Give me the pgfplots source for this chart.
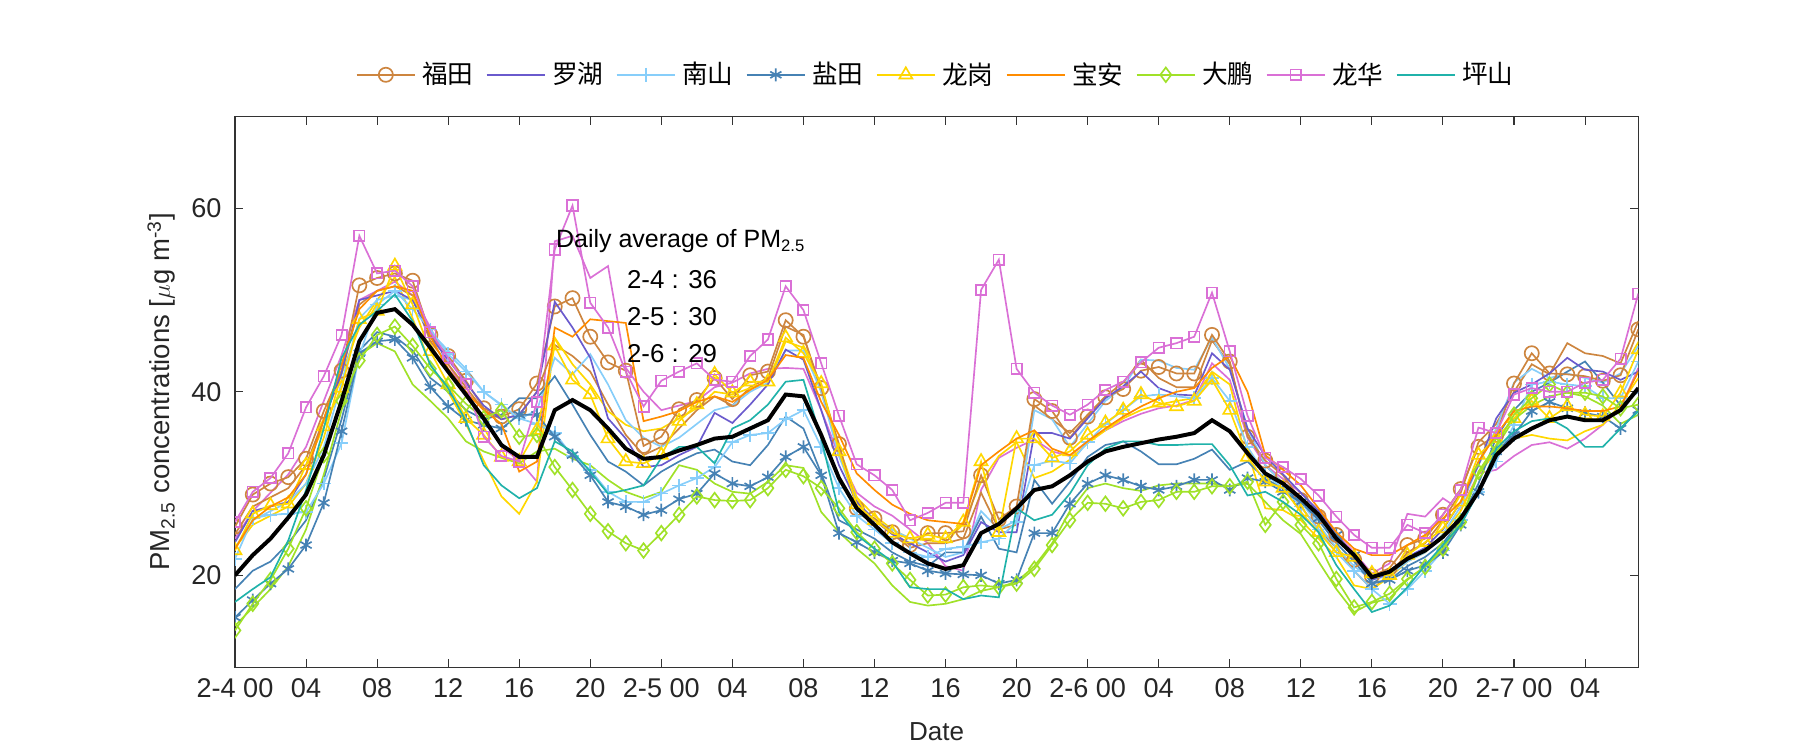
\documentclass[border=0pt]{standalone}
\usepackage{fontspec}
\setmainfont{Liberation Sans}
\newfontfamily\cjk{Noto Sans CJK SC}
\usepackage{pgfplots}
\usepackage{pgfplotstable}
\pgfplotsset{compat=1.18}

\definecolor{cfut}{RGB}{205,133,63}
\definecolor{cluo}{RGB}{106,90,205}
\definecolor{cnan}{RGB}{135,206,250}
\definecolor{cyan2}{RGB}{70,130,180}
\definecolor{clg}{RGB}{255,215,0}
\definecolor{cba}{RGB}{255,140,0}
\definecolor{cdp}{RGB}{160,225,40}
\definecolor{clh}{RGB}{218,112,214}
\definecolor{cps}{RGB}{32,178,170}

% hourly values, 2-4 00 ... 2-7 07 (80 points each)
\pgfplotstableread[header=false,row sep=\\]{
20.0\\22.2\\24.0\\26.3\\28.8\\33.1\\39.0\\45.5\\48.6\\49.0\\
47.3\\44.8\\42.2\\39.7\\37.1\\34.2\\32.9\\32.9\\38.0\\39.1\\
38.0\\36.0\\33.8\\32.7\\32.9\\33.6\\34.2\\34.9\\35.1\\36.0\\
36.9\\39.7\\39.5\\35.3\\30.6\\27.3\\25.5\\23.6\\22.4\\21.3\\
20.7\\21.1\\24.6\\25.6\\27.3\\29.3\\29.7\\30.9\\32.4\\33.5\\
34.0\\34.4\\34.8\\35.1\\35.5\\36.9\\35.7\\33.3\\31.1\\30.0\\
28.4\\26.6\\24.0\\22.2\\19.8\\20.4\\21.8\\22.7\\24.2\\26.2\\
29.1\\33.1\\34.9\\36.0\\36.9\\37.3\\36.9\\36.9\\38.0\\40.4\\
}\tavg
\pgfplotstableread[header=false,row sep=\\]{
25.3\\28.8\\30.0\\30.7\\32.7\\37.9\\42.3\\51.6\\52.4\\52.9\\
52.1\\46.2\\43.9\\41.2\\38.2\\37.3\\38.1\\40.9\\49.3\\50.2\\
46.0\\43.2\\42.3\\34.1\\35.1\\38.1\\39.1\\41.5\\39.2\\41.8\\
42.2\\47.8\\46.0\\40.4\\34.3\\27.3\\26.2\\24.7\\23.3\\24.6\\
24.6\\24.8\\30.9\\26.1\\27.5\\39.2\\37.9\\35.0\\37.3\\39.4\\
40.3\\42.3\\42.7\\42.0\\42.0\\46.2\\43.3\\35.1\\32.5\\30.9\\
28.2\\26.4\\24.4\\21.7\\19.9\\20.8\\23.3\\24.0\\26.6\\29.4\\
34.0\\35.3\\40.9\\44.2\\42.0\\41.9\\41.7\\41.2\\41.8\\46.8\\
}\tfut
\pgfplotstableread[header=false,row sep=\\]{
23.6\\27.0\\27.5\\28.0\\31.0\\37.0\\42.0\\50.0\\50.5\\51.0\\
50.0\\46.0\\43.5\\41.0\\38.5\\37.0\\37.5\\40.0\\49.8\\47.0\\
43.7\\37.1\\34.9\\31.8\\32.0\\33.1\\34.0\\37.7\\36.6\\38.6\\
40.8\\44.6\\43.5\\38.0\\32.0\\28.0\\26.0\\24.5\\23.5\\22.5\\
21.5\\22.2\\25.8\\24.7\\24.7\\35.5\\35.5\\34.9\\37.1\\39.3\\
40.6\\42.2\\40.4\\39.7\\39.6\\44.2\\42.4\\36.0\\33.0\\31.0\\
29.0\\27.0\\24.5\\22.0\\19.5\\20.2\\22.0\\23.0\\25.0\\28.0\\
32.0\\37.1\\39.9\\40.8\\42.0\\43.7\\42.4\\42.2\\41.3\\42.2\\
}\tluo
\pgfplotstableread[header=false,row sep=\\]{
21.8\\26.2\\26.6\\26.7\\26.9\\30.0\\34.4\\44.0\\49.5\\51.0\\
49.0\\46.8\\44.1\\42.2\\40.0\\38.6\\37.1\\36.5\\35.5\\33.0\\
31.5\\29.1\\28.0\\28.0\\28.9\\29.8\\30.6\\31.8\\34.5\\35.3\\
35.5\\37.0\\38.0\\34.0\\29.5\\26.5\\25.0\\23.5\\22.5\\22.0\\
22.9\\23.1\\23.6\\24.0\\25.8\\32.0\\32.5\\32.2\\34.5\\36.5\\
38.0\\39.5\\39.7\\39.5\\39.3\\41.5\\39.0\\34.0\\31.0\\29.5\\
27.5\\25.0\\22.5\\20.5\\18.5\\16.9\\18.5\\20.5\\22.7\\26.0\\
29.1\\32.4\\36.4\\40.8\\41.1\\40.8\\40.6\\39.3\\39.3\\43.3\\
}\tnan
\pgfplotstableread[header=false,row sep=\\]{
15.4\\17.3\\19.1\\20.7\\23.3\\27.9\\35.7\\44.2\\45.5\\45.7\\
43.7\\40.5\\38.4\\36.9\\36.4\\36.0\\37.5\\37.5\\35.1\\33.1\\
30.9\\28.0\\27.5\\26.6\\27.1\\28.3\\28.9\\31.1\\30.0\\29.7\\
30.7\\32.9\\34.0\\30.9\\24.6\\23.6\\22.5\\21.6\\21.3\\20.5\\
20.2\\20.1\\20.0\\19.1\\19.5\\24.6\\24.6\\27.8\\30.0\\30.9\\
30.4\\29.7\\29.3\\29.7\\30.4\\30.4\\29.3\\30.6\\30.2\\29.1\\
28.0\\26.2\\24.4\\22.2\\19.1\\19.5\\20.5\\21.1\\22.5\\25.5\\
29.1\\33.5\\35.3\\37.9\\38.9\\38.2\\37.7\\37.3\\36.0\\38.0\\
}\tyan
\pgfplotstableread[header=false,row sep=\\]{
22.7\\26.7\\27.6\\27.8\\32.0\\36.2\\40.4\\47.9\\48.8\\53.7\\
49.5\\44.4\\40.8\\37.1\\35.3\\32.9\\32.4\\35.8\\45.0\\41.3\\
39.7\\34.9\\32.4\\32.2\\33.1\\36.8\\38.6\\41.9\\39.9\\41.1\\
41.1\\45.9\\44.2\\40.9\\33.5\\27.7\\26.0\\24.6\\24.0\\24.4\\
24.0\\25.8\\32.4\\24.7\\34.9\\34.9\\32.8\\33.5\\35.3\\36.6\\
38.0\\39.7\\38.8\\38.4\\39.0\\41.3\\38.0\\32.9\\30.2\\29.5\\
26.9\\24.7\\22.5\\22.0\\20.2\\20.0\\22.2\\23.6\\25.1\\28.0\\
33.1\\34.9\\37.1\\39.0\\37.1\\38.4\\37.5\\37.3\\39.9\\44.6\\
}\tlg
\pgfplotstableread[header=false,row sep=\\]{
22.9\\26.0\\27.5\\28.5\\31.0\\37.0\\43.0\\49.0\\51.0\\51.5\\
51.0\\46.0\\42.5\\40.0\\38.0\\36.5\\31.3\\32.4\\47.0\\46.0\\
47.9\\47.7\\47.5\\36.8\\37.3\\37.9\\38.9\\39.5\\38.9\\40.2\\
41.3\\44.0\\43.7\\38.9\\35.3\\31.1\\29.3\\27.7\\26.7\\26.0\\
25.8\\25.6\\32.0\\33.5\\34.9\\35.8\\33.8\\33.1\\34.6\\36.0\\
37.3\\38.4\\39.3\\40.0\\40.4\\42.6\\43.9\\40.0\\33.1\\31.5\\
29.8\\27.3\\24.7\\22.9\\22.2\\22.2\\23.3\\24.4\\26.2\\28.0\\
32.4\\35.3\\37.9\\38.4\\38.4\\38.2\\37.9\\37.9\\38.4\\42.2\\
}\tba
\pgfplotstableread[header=false,row sep=\\]{
14.0\\16.9\\19.5\\22.9\\27.3\\33.1\\39.0\\43.4\\46.2\\47.1\\
45.0\\42.5\\40.7\\38.7\\37.1\\38.0\\35.1\\35.3\\31.8\\29.3\\
26.7\\24.8\\23.5\\22.7\\24.6\\26.6\\28.6\\28.2\\28.1\\28.2\\
29.5\\31.5\\30.8\\29.5\\27.3\\24.7\\22.9\\21.3\\19.5\\17.8\\
17.9\\18.7\\18.9\\18.7\\19.1\\20.7\\23.3\\26.0\\27.9\\27.8\\
27.3\\28.0\\28.2\\29.1\\29.1\\29.7\\29.7\\30.2\\25.5\\28.0\\
25.5\\23.5\\19.6\\16.5\\17.1\\18.0\\19.6\\20.9\\22.9\\25.8\\
31.3\\34.2\\37.5\\39.3\\40.8\\39.9\\39.9\\39.5\\38.2\\38.6\\
}\tdp
\pgfplotstableread[header=false,row sep=\\]{
25.8\\29.1\\30.6\\33.3\\38.3\\41.7\\46.2\\57.0\\52.9\\53.2\\
51.5\\46.5\\43.7\\40.8\\35.1\\33.0\\32.4\\38.9\\55.5\\60.3\\
49.7\\47.0\\42.2\\38.4\\41.2\\42.2\\43.1\\41.3\\41.1\\43.9\\
45.7\\51.5\\48.9\\43.1\\37.4\\32.1\\30.9\\29.3\\26.0\\26.8\\
27.9\\27.9\\51.1\\54.4\\42.5\\39.9\\38.5\\37.5\\38.6\\40.2\\
41.1\\43.2\\44.8\\45.3\\46.0\\50.8\\44.4\\37.4\\32.8\\31.8\\
30.5\\28.7\\26.4\\24.4\\23.0\\23.0\\25.5\\24.6\\26.6\\29.3\\
36.1\\35.5\\39.7\\40.4\\40.0\\40.0\\41.0\\41.3\\43.6\\50.7\\
}\tlh
\pgfplotstableread[header=false,row sep=\\]{
17.1\\18.5\\19.8\\23.8\\29.3\\36.0\\43.7\\47.3\\48.8\\50.6\\
47.7\\42.9\\40.4\\36.8\\32.0\\29.8\\28.4\\29.5\\34.6\\33.5\\
31.3\\28.9\\29.3\\29.8\\32.8\\34.0\\34.0\\32.2\\36.0\\36.9\\
38.6\\41.1\\41.3\\34.9\\26.9\\24.4\\22.9\\21.5\\18.7\\18.5\\
18.5\\17.4\\17.8\\17.6\\27.3\\26.0\\26.6\\28.9\\32.0\\33.8\\
34.6\\34.6\\34.2\\34.2\\34.3\\34.3\\32.0\\28.7\\29.1\\28.0\\
26.6\\24.7\\21.1\\18.5\\16.0\\16.7\\18.7\\21.1\\23.3\\25.5\\
29.1\\33.8\\35.7\\36.8\\37.1\\36.0\\34.0\\34.0\\36.0\\37.9\\
}\tps
% further lines without markers, not in the legend
\pgfplotstableread[header=false,row sep=\\]{
24.0\\27.0\\29.0\\31.0\\34.0\\39.0\\44.0\\50.0\\51.0\\52.0\\
50.5\\47.0\\43.0\\40.0\\37.0\\34.0\\32.5\\30.2\\56.4\\57.0\\
52.4\\53.7\\42.6\\40.0\\38.0\\38.5\\39.0\\40.5\\41.0\\42.0\\
42.5\\42.6\\42.5\\38.0\\33.0\\29.0\\27.5\\26.5\\25.0\\23.5\\
21.0\\20.5\\29.3\\32.8\\33.9\\34.8\\33.5\\33.0\\34.6\\35.8\\
36.8\\37.6\\38.2\\38.5\\39.1\\43.1\\41.3\\35.0\\32.0\\30.5\\
29.0\\27.0\\24.5\\22.5\\20.2\\21.3\\26.7\\26.4\\28.4\\27.1\\
31.1\\31.5\\33.0\\34.2\\34.5\\33.8\\34.9\\36.4\\38.2\\42.6\\
}\txlh
\pgfplotstableread[header=false,row sep=\\]{
24.5\\27.5\\28.5\\29.5\\32.0\\37.0\\42.0\\49.5\\51.0\\51.5\\
50.5\\45.5\\43.0\\40.5\\38.0\\37.0\\37.5\\40.0\\45.1\\43.9\\
42.2\\38.6\\35.3\\33.1\\34.0\\36.0\\38.0\\39.5\\38.5\\40.5\\
41.5\\47.1\\46.2\\40.0\\34.0\\28.0\\26.0\\24.5\\23.0\\23.5\\
23.5\\24.0\\29.0\\25.0\\25.5\\38.5\\37.0\\35.5\\37.5\\39.5\\
41.0\\43.5\\41.5\\40.5\\40.5\\45.6\\43.0\\35.5\\32.0\\30.0\\
27.5\\25.0\\23.0\\20.5\\18.5\\20.0\\22.5\\23.5\\26.0\\29.0\\
34.5\\36.5\\40.0\\43.0\\41.9\\45.3\\44.2\\43.9\\43.1\\47.7\\
}\txfut
\pgfplotstableread[header=false,row sep=\\]{
23.0\\25.5\\26.5\\27.5\\30.0\\35.0\\42.0\\47.0\\50.0\\52.5\\
48.0\\43.0\\40.0\\36.5\\32.5\\28.6\\26.7\\30.2\\45.9\\43.0\\
40.8\\37.9\\36.4\\35.7\\36.0\\37.1\\38.2\\40.0\\39.7\\40.4\\
40.8\\45.5\\44.8\\40.8\\34.0\\28.5\\26.5\\25.0\\24.0\\23.8\\
23.6\\25.6\\30.2\\33.0\\34.5\\30.6\\31.3\\32.6\\34.4\\35.8\\
37.1\\38.0\\38.6\\39.0\\39.3\\42.2\\40.8\\33.5\\27.3\\27.1\\
26.0\\24.0\\22.0\\18.9\\18.5\\19.8\\21.5\\22.5\\24.5\\27.0\\
31.0\\33.5\\34.9\\35.3\\34.9\\34.7\\35.7\\36.4\\38.6\\41.5\\
}\txlg
\pgfplotstableread[header=false,row sep=\\]{
23.0\\26.0\\27.0\\28.0\\30.0\\34.0\\41.0\\48.0\\50.0\\50.5\\
50.0\\46.5\\44.5\\42.5\\40.0\\38.5\\37.0\\38.0\\43.7\\41.9\\
44.1\\40.8\\36.9\\35.0\\34.0\\35.0\\36.5\\38.0\\38.5\\40.0\\
41.0\\44.5\\44.5\\40.0\\33.0\\28.0\\26.0\\25.0\\24.0\\23.0\\
22.0\\22.5\\27.0\\25.0\\26.0\\38.0\\37.0\\34.0\\36.5\\39.0\\
40.5\\43.5\\43.4\\42.6\\42.4\\45.9\\42.5\\36.0\\32.0\\30.0\\
28.0\\25.5\\23.0\\21.0\\19.5\\20.0\\21.5\\22.5\\24.5\\27.5\\
32.0\\36.0\\41.0\\42.5\\41.5\\42.0\\41.5\\41.0\\42.0\\45.0\\
}\txnan
\pgfplotstableread[header=false,row sep=\\]{
18.5\\20.5\\21.5\\23.5\\26.0\\30.5\\37.0\\44.5\\46.5\\46.0\\
44.5\\41.5\\40.0\\38.0\\37.0\\37.5\\39.3\\39.3\\41.7\\38.6\\
35.3\\32.4\\31.3\\29.8\\31.3\\32.4\\33.3\\33.7\\32.4\\32.0\\
34.2\\37.3\\36.0\\31.1\\26.0\\25.0\\24.0\\22.5\\21.5\\21.0\\
22.5\\22.5\\26.4\\22.9\\22.5\\30.4\\27.8\\30.2\\32.9\\34.2\\
34.6\\33.5\\32.1\\32.1\\32.7\\33.7\\31.5\\32.4\\30.5\\29.5\\
28.0\\26.0\\23.5\\21.5\\19.2\\19.5\\21.0\\22.0\\23.5\\26.0\\
30.0\\35.0\\38.0\\40.0\\41.0\\42.2\\43.3\\41.0\\38.5\\40.0\\
}\txyan
\pgfplotstableread[header=false,row sep=\\]{
14.5\\16.5\\18.5\\21.0\\25.0\\31.0\\38.0\\44.0\\45.3\\44.4\\
40.8\\39.0\\37.1\\34.6\\33.5\\32.8\\32.2\\33.5\\33.8\\32.7\\
32.0\\30.4\\29.1\\28.4\\29.1\\32.0\\31.5\\30.0\\29.1\\28.9\\
30.2\\32.0\\31.7\\26.9\\24.7\\22.9\\21.3\\18.9\\17.1\\16.7\\
16.9\\17.4\\18.3\\18.7\\19.3\\21.0\\23.5\\27.0\\29.5\\30.0\\
29.5\\29.2\\29.8\\30.0\\30.0\\30.0\\29.7\\30.0\\28.0\\26.0\\
24.5\\21.5\\18.5\\16.0\\17.0\\17.5\\19.5\\21.0\\23.0\\26.0\\
31.0\\34.0\\37.0\\38.5\\39.5\\39.9\\39.5\\38.5\\36.5\\37.5\\
}\txdp

\begin{document}
\begin{tikzpicture}
\path[use as bounding box] (0,0) rectangle (864pt,360pt);
\begin{axis}[
  scale only axis, width=673.6pt, height=264.3pt,
  at={(112.8pt,39.8pt)}, anchor=south west,
  xmin=0, xmax=79, ymin=10, ymax=70,
  xtick={0,4,...,76},
  xticklabels={2-4 00,04,08,12,16,20,2-5 00,04,08,12,16,20,2-6 00,04,08,12,16,20,2-7 00,04},
  ytick={20,40,60},
  tick align=inside,
  major tick length=4pt,
  axis line style={line width=0.5pt, color=black!80},
  tick style={line width=0.5pt, color=black!80},
  ticklabel style={font=\fontsize{13}{15}\selectfont, text=black!85},
  xticklabel style={yshift=-2pt},
  yticklabel style={xshift=-3pt},
  /pgf/number format/assume math mode=true,
  xlabel={Date},
  ylabel={PM\textsubscript{2.5} concentrations [$\mu$g m\textsuperscript{-3}]},
  label style={font=\fontsize{12.5}{14}\selectfont, text=black!85},
  xlabel style={at={(axis description cs:0.5,-0.118)}, anchor=center},
  ylabel style={at={(axis description cs:-0.0524,0.5)}, anchor=center, font=\fontsize{13.2}{15}\selectfont},
  legend columns=9,
  legend style={at={(axis description cs:0.5,1.0757)}, anchor=center, draw=none,
    font=\cjk\fontsize{12.3}{14}\selectfont,
    /tikz/every odd column/.append style={column sep=1pt},
    /tikz/every even column/.append style={column sep=4pt}},
  legend image code/.code={\draw[mark repeat=2,mark phase=2] plot coordinates {(0pt,0pt) (14pt,0pt) (28pt,0pt)};},
  clip marker paths=true,
  every axis plot/.append style={line width=0.8pt, mark options={solid}},
  table/x expr=\coordindex, table/y index=0,
]
\addplot[clh, forget plot] table {\txlh};
\addplot[cfut, forget plot] table {\txfut};
\addplot[clg, forget plot] table {\txlg};
\addplot[cnan, forget plot] table {\txnan};
\addplot[cyan2, forget plot] table {\txyan};
\addplot[cdp, forget plot] table {\txdp};

\addplot[cfut, mark=o, mark size=3.4pt] table {\tfut};
\addlegendentry{福田}
\addplot[cluo] table {\tluo};
\addlegendentry{罗湖}
\addplot[cnan, mark=+, mark size=3.3pt] table {\tnan};
\addlegendentry{南山}
\addplot[cyan2, mark=asterisk, mark size=3.1pt] table {\tyan};
\addlegendentry{盐田}
\addplot[clg, mark=triangle, mark size=3.6pt] table {\tlg};
\addlegendentry{龙岗}
\addplot[cba] table {\tba};
\addlegendentry{宝安}
\addplot[cdp, mark=diamond, mark size=3.5pt] table {\tdp};
\addlegendentry{大鹏}
\addplot[clh, mark=square, mark size=2.5pt] table {\tlh};
\addlegendentry{龙华}
\addplot[cps] table {\tps};
\addlegendentry{坪山}

\addplot[black, line width=1.9pt, forget plot] table {\tavg};

\node[anchor=base west, inner sep=0pt, font=\fontsize{12}{14}\selectfont] at (axis cs:18.05,55.7) {Daily average of PM\textsubscript{2.5}};
\node[anchor=base west, inner sep=0pt, font=\fontsize{12.4}{14}\selectfont] at (axis cs:22.05,51.26) {2-4 : 36};
\node[anchor=base west, inner sep=0pt, font=\fontsize{12.4}{14}\selectfont] at (axis cs:22.05,47.25) {2-5 : 30};
\node[anchor=base west, inner sep=0pt, font=\fontsize{12.4}{14}\selectfont] at (axis cs:22.05,43.24) {2-6 : 29};
\end{axis}
\end{tikzpicture}
\end{document}
